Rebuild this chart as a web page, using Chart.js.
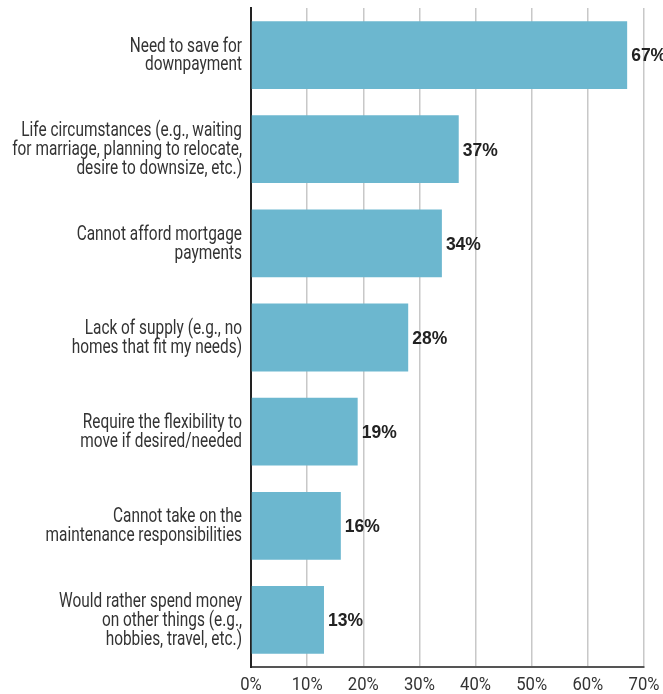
<!DOCTYPE html>
<html>
<head>
<meta charset="utf-8">
<script src="https://cdn.jsdelivr.net/npm/chart.js@4/dist/chart.umd.min.js"></script>
<style>
  html, body { margin: 0; padding: 0; background: #fff; }
  #wrap { width: 663px; height: 694px; position: relative; }
</style>
</head>
<body>
<div id="wrap"><canvas id="chart"></canvas></div>
<script>
const categories = [
  ['Need to save for', 'downpayment'],
  ['Life circumstances (e.g., waiting', 'for marriage, planning to relocate,', 'desire to downsize, etc.)'],
  ['Cannot afford mortgage', 'payments'],
  ['Lack of supply (e.g., no', 'homes that fit my needs)'],
  ['Require the flexibility to', 'move if desired/needed'],
  ['Cannot take on the', 'maintenance responsibilities'],
  ['Would rather spend money', 'on other things (e.g.,', 'hobbies, travel, etc.)']
];
const shares = [67, 37, 34, 28, 19, 16, 13];
const tickValues = [0, 10, 20, 30, 40, 50, 60, 70];

// the source uses a condensed face; squeeze Roboto horizontally to get close
function condensedText(ctx, text, x, y, squeeze) {
  ctx.save();
  ctx.translate(x, y);
  ctx.scale(squeeze, 1);
  ctx.fillText(text, 0, 0);
  ctx.restore();
}

const axisText = {
  id: 'axisText',
  afterDraw(chart) {
    const ctx = chart.ctx;
    const xs = chart.scales.x, ys = chart.scales.y;
    ctx.save();
    ctx.fillStyle = '#333';
    ctx.textBaseline = 'middle';

    // category labels, right aligned against the axis
    ctx.font = '19.5px Roboto, sans-serif';
    ctx.textAlign = 'right';
    const lineH = 18.7;
    categories.forEach((lines, i) => {
      const cy = ys.getPixelForValue(i);
      const y0 = cy - (lines.length - 1) * lineH / 2;
      lines.forEach((t, k) => condensedText(ctx, t, ys.right - 9, y0 + k * lineH + 1, 0.79));
    });

    // percentage ticks under the axis
    ctx.font = '18.5px Roboto, sans-serif';
    ctx.textAlign = 'center';
    tickValues.forEach(v => {
      condensedText(ctx, v + '%', xs.getPixelForValue(v), xs.top + 18, 0.9);
    });

    // bold values at the bar ends
    const meta = chart.getDatasetMeta(0);
    ctx.font = 'bold 17.5px "Liberation Sans", Arial, sans-serif';
    ctx.fillStyle = '#222';
    ctx.textAlign = 'left';
    meta.data.forEach((bar, i) => {
      ctx.fillText(shares[i] + '%', bar.x + 4, bar.y + 1.5);
    });
    ctx.restore();
  }
};

new Chart(document.getElementById('chart'), {
  type: 'bar',
  data: {
    labels: categories.map(l => l.join(' ')),
    datasets: [{
      data: shares,
      backgroundColor: '#6cb7cf',
      borderWidth: 0,
      categoryPercentage: 1,
      barPercentage: 0.72
    }]
  },
  options: {
    indexAxis: 'y',
    responsive: true,
    maintainAspectRatio: false,
    animation: false,
    layout: { padding: { top: 8, right: 19, bottom: 0, left: 0 } },
    plugins: {
      legend: { display: false },
      tooltip: { enabled: false }
    },
    scales: {
      x: {
        min: 0,
        max: 70,
        afterBuildTicks: s => { s.ticks = tickValues.map(v => ({ value: v })); },
        afterFit: s => {
          s.height = 27;
          s.paddingLeft = 0; s.paddingRight = 0;
        },
        ticks: { display: false },
        grid: {
          color: '#c8c8c8',
          lineWidth: 1.5,
          drawTicks: false
        },
        border: { color: '#555', width: 2 }
      },
      y: {
        afterFit: s => {
          s.width = 251;
          s.paddingTop = 0; s.paddingBottom = 0;
        },
        ticks: { display: false },
        grid: { display: false, drawTicks: false },
        border: { color: '#222', width: 2 }
      }
    }
  },
  plugins: [axisText]
});
</script>
</body>
</html>
